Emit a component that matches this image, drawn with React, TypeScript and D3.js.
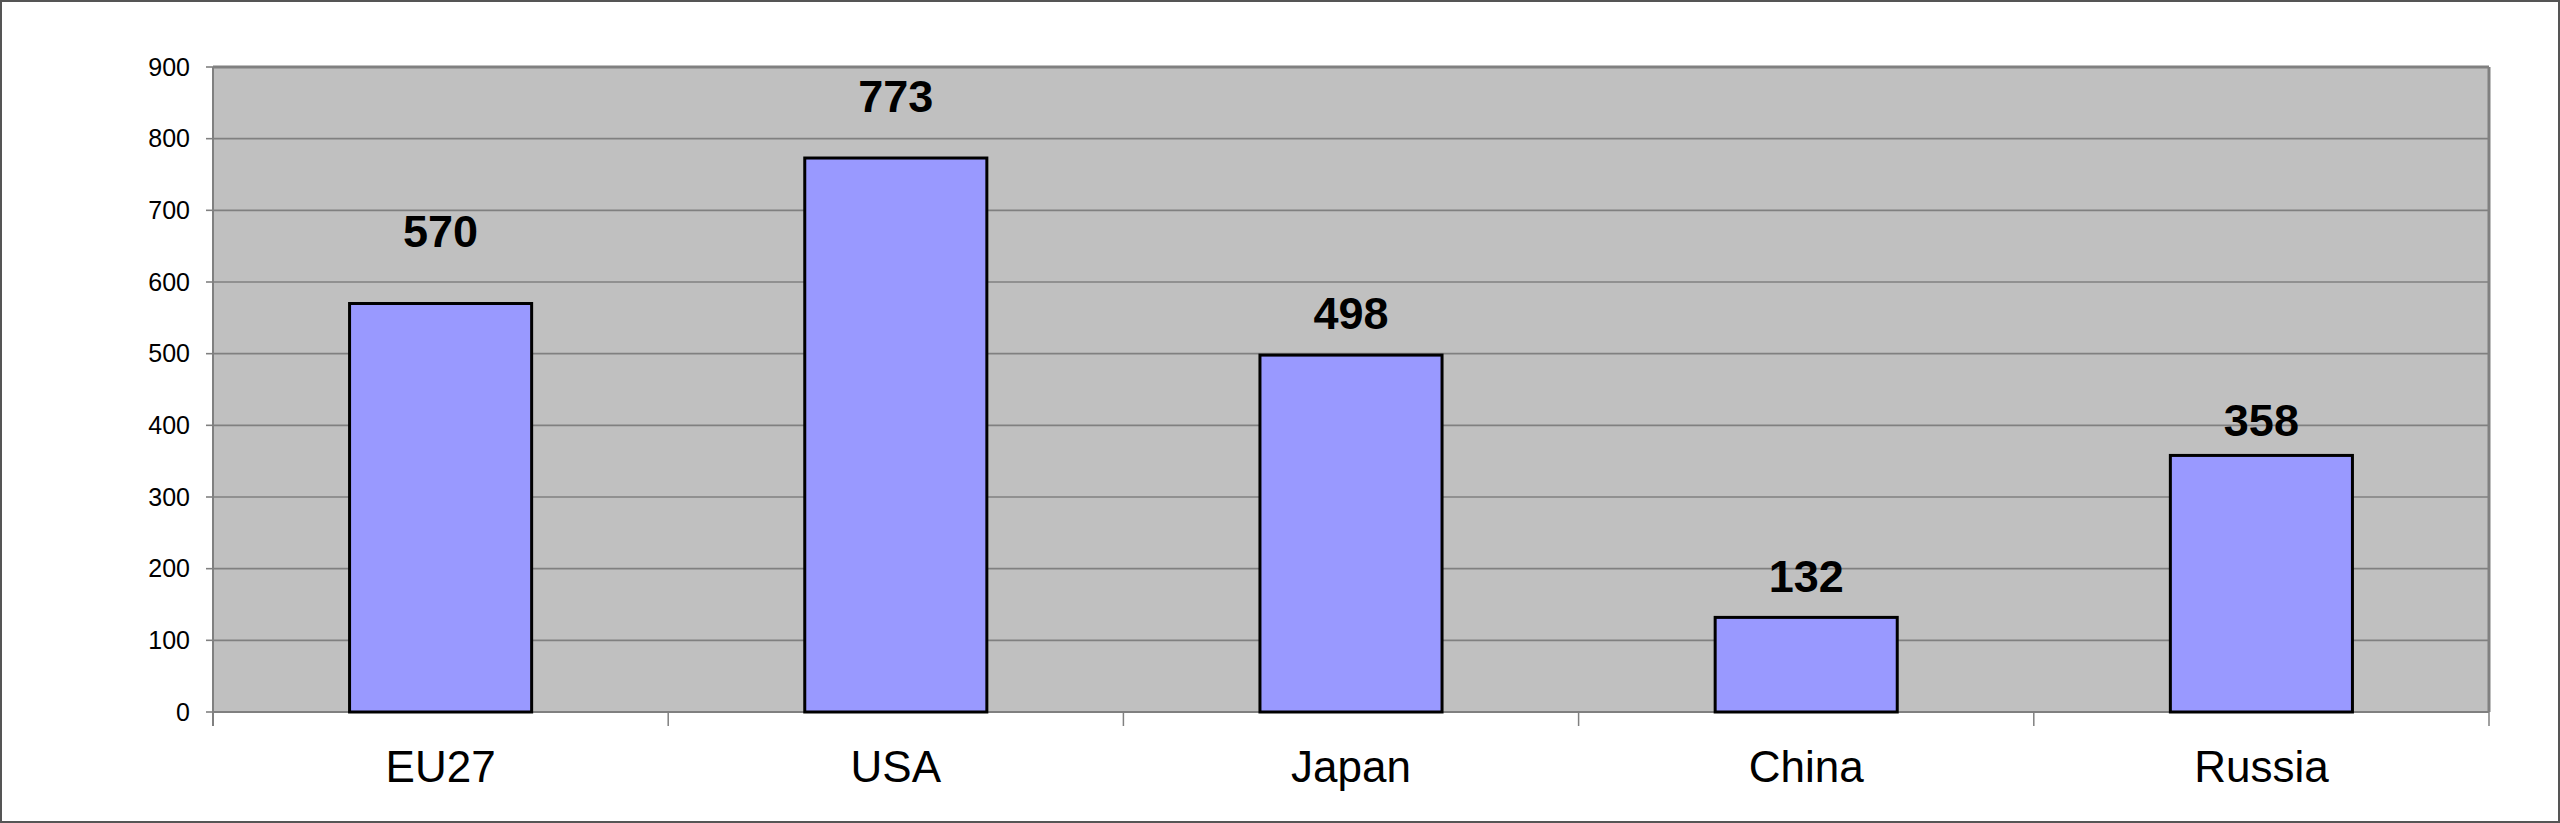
import React from "react";
import * as d3 from "d3";

const categories = ["EU27", "USA", "Japan", "China", "Russia"];
const values = [570, 773, 498, 132, 358];
const yTicks = [0, 100, 200, 300, 400, 500, 600, 700, 800, 900];

// layout (pixels)
const W = 2560;
const H = 823;
const M = { left: 213, right: 2489, top: 67, bottom: 712 };
// manual vertical lift of each value label above its bar top (px)
const labelLift = [57, 46, 26, 25, 19];

export default function App() {
  const x = d3
    .scaleBand<string>()
    .domain(categories)
    .range([M.left, M.right])
    .paddingInner(0.6)
    .paddingOuter(0.3);
  const band = d3.scaleBand<string>().domain(categories).range([M.left, M.right]);
  const y = d3.scaleLinear().domain([0, 900]).range([M.bottom, M.top]);
  const font = "Liberation Sans, Arial, sans-serif";
  const boundaries = categories.map((c) => band(c) as number).concat([M.right]);

  return (
    <div style={{ position: "absolute", left: 0, top: 0 }}>
      <svg width={W} height={H} style={{ display: "block" }}>
        <rect x={0} y={0} width={W} height={H} fill="#ffffff" />
        <rect x={1} y={1} width={W - 2} height={H - 2} fill="none" stroke="#555555" strokeWidth={2} />
        {/* plot background */}
        <rect x={M.left} y={M.top} width={M.right - M.left} height={M.bottom - M.top} fill="#C0C0C0" />
        {/* gridlines */}
        {yTicks.map((t) => (
          <line key={t} x1={M.left} x2={M.right} y1={y(t)} y2={y(t)} stroke="#808080" strokeWidth={1.6} />
        ))}
        {/* frame */}
        <line x1={M.left} x2={M.right} y1={M.top} y2={M.top} stroke="#808080" strokeWidth={3} />
        <line x1={M.right} x2={M.right} y1={M.top} y2={M.bottom} stroke="#808080" strokeWidth={3} />
        <line x1={M.left} x2={M.left} y1={M.top} y2={M.bottom + 14} stroke="#808080" strokeWidth={2} />
        <line x1={M.left} x2={M.right} y1={M.bottom} y2={M.bottom} stroke="#808080" strokeWidth={2} />
        {/* y ticks */}
        {yTicks.map((t) => (
          <g key={"yt" + t}>
            <line x1={M.left - 7} x2={M.left} y1={y(t)} y2={y(t)} stroke="#808080" strokeWidth={1.6} />
            <text x={190} y={y(t)} dy="0.35em" textAnchor="end" fontFamily={font} fontSize={25} fill="#000">
              {t}
            </text>
          </g>
        ))}
        {/* x ticks */}
        {boundaries.map((bx, i) => (
          <line key={"xt" + i} x1={bx} x2={bx} y1={M.bottom} y2={M.bottom + 14} stroke="#808080" strokeWidth={1.5} />
        ))}
        {/* bars */}
        {categories.map((c, i) => (
          <rect
            key={c}
            x={x(c) as number}
            y={y(values[i])}
            width={x.bandwidth()}
            height={y(0) - y(values[i])}
            fill="#9999FF"
            stroke="#000000"
            strokeWidth={3}
          />
        ))}
        {/* value labels */}
        {categories.map((c, i) => (
          <text
            key={"v" + c}
            x={(x(c) as number) + x.bandwidth() / 2}
            y={y(values[i]) - labelLift[i]}
            textAnchor="middle"
            fontFamily={font}
            fontWeight="bold"
            fontSize={45}
            fill="#000"
          >
            {values[i]}
          </text>
        ))}
        {/* category labels */}
        {categories.map((c) => (
          <text
            key={"c" + c}
            x={(x(c) as number) + x.bandwidth() / 2}
            y={782}
            textAnchor="middle"
            fontFamily={font}
            fontSize={44}
            fill="#000"
          >
            {c}
          </text>
        ))}
      </svg>
    </div>
  );
}
